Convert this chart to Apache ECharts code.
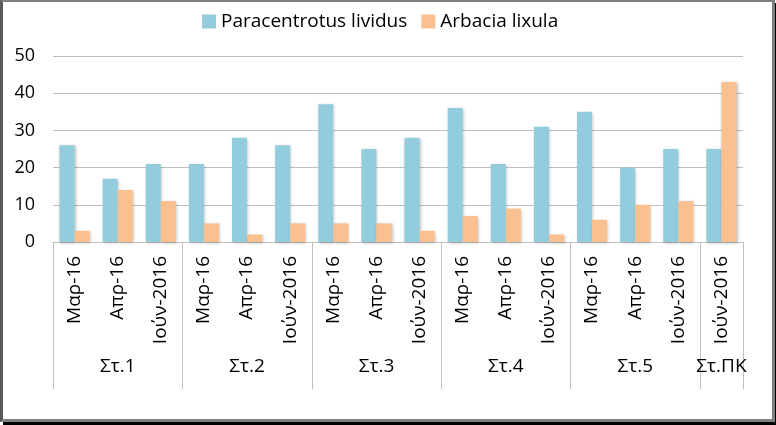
<!DOCTYPE html>
<html><head><meta charset="utf-8">
<script src="https://cdn.jsdelivr.net/npm/echarts@6/dist/echarts.min.js"></script>
<style>
html,body{margin:0;padding:0;background:#fff;}
#frame{position:absolute;left:0;top:0;width:769px;height:417px;border-top:2px solid #808080;border-left:3px solid #595959;border-right:3px solid #808080;border-bottom:3px solid #808080;box-shadow:3px 3px 0 #000;background:#fff;}
#chart{position:absolute;left:0;top:0;width:776px;height:425px;}
</style></head>
<body>
<div id="frame"></div>
<div id="chart"></div>
<script>
var months = ['Μαρ-16','Απρ-16','Ιούν-2016','Μαρ-16','Απρ-16','Ιούν-2016','Μαρ-16','Απρ-16','Ιούν-2016','Μαρ-16','Απρ-16','Ιούν-2016','Μαρ-16','Απρ-16','Ιούν-2016','Ιούν-2016'];
var stations = ['Στ.1','Στ.1','Στ.1','Στ.2','Στ.2','Στ.2','Στ.3','Στ.3','Στ.3','Στ.4','Στ.4','Στ.4','Στ.5','Στ.5','Στ.5','Στ.ΠΚ'];
var paracentrotus = [26,17,21,21,28,26,37,25,28,36,21,31,35,20,25,25];
var arbacia = [3,14,11,5,2,5,5,5,3,7,9,2,6,10,11,43];
var yTicks = [0,10,20,30,40,50];

// group boundaries and label positions derived from stations
var boundaries = {}, mids = {};
(function(){
  var start = 0;
  for (var i = 1; i <= stations.length; i++) {
    if (i === stations.length || stations[i] !== stations[start]) {
      boundaries[start] = true;
      mids[Math.floor((start + i - 1) / 2)] = true;
      start = i;
    }
  }
})();

var FONT = 'Open Sans';
var chart = echarts.init(document.getElementById('chart'), null, {renderer:'canvas'});
chart.setOption({
  backgroundColor: 'transparent',
  animation: false,
  textStyle: {fontFamily: FONT},
  legend: {
    top: 7, left: 197,
    itemWidth: 14, itemHeight: 14, itemGap: 14,
    textStyle: {fontFamily: FONT, fontSize: 19, color: '#000'},
    data: [{name:'Paracentrotus lividus', icon:'rect'},{name:'Arbacia lixula', icon:'rect'}]
  },
  grid: {left: 53, right: 33, top: 56, bottom: 183},
  xAxis: [{
    type: 'category',
    data: months,
    axisLine: {show: true, lineStyle: {color: '#bfbfbf', width: 1}},
    axisTick: {show: true, length: 147, interval: function(i){ return !!boundaries[i]; }, lineStyle: {color: '#bfbfbf'}},
    axisLabel: {interval: 0, rotate: 90, margin: 14, fontFamily: FONT, fontSize: 19, color: '#000'}
  },{
    type: 'category',
    position: 'bottom',
    data: stations,
    axisLine: {show: false},
    axisTick: {show: false},
    axisLabel: {interval: function(i){ return !!mids[i]; }, margin: 115, fontFamily: FONT, fontSize: 19, color: '#000'}
  }],
  yAxis: {
    type: 'value', min: yTicks[0], max: yTicks[yTicks.length-1], interval: 10,
    axisLine: {show: false}, axisTick: {show: false},
    splitLine: {lineStyle: {color: '#bfbfbf', width: 1}},
    axisLabel: {margin: 18, fontFamily: FONT, fontSize: 18, color: '#000'}
  },
  series: [{
    name: 'Paracentrotus lividus', type: 'bar', data: paracentrotus,
    barGap: '0%', barCategoryGap: '30%',
    itemStyle: {color: '#93CDDD', shadowColor:'rgba(0,0,0,0.25)', shadowBlur:3, shadowOffsetX:1, shadowOffsetY:1}
  },{
    name: 'Arbacia lixula', type: 'bar', data: arbacia,
    barGap: '0%', barCategoryGap: '30%',
    itemStyle: {color: '#FAC090', shadowColor:'rgba(0,0,0,0.25)', shadowBlur:3, shadowOffsetX:1, shadowOffsetY:1}
  }]
});
</script>
</body></html>
